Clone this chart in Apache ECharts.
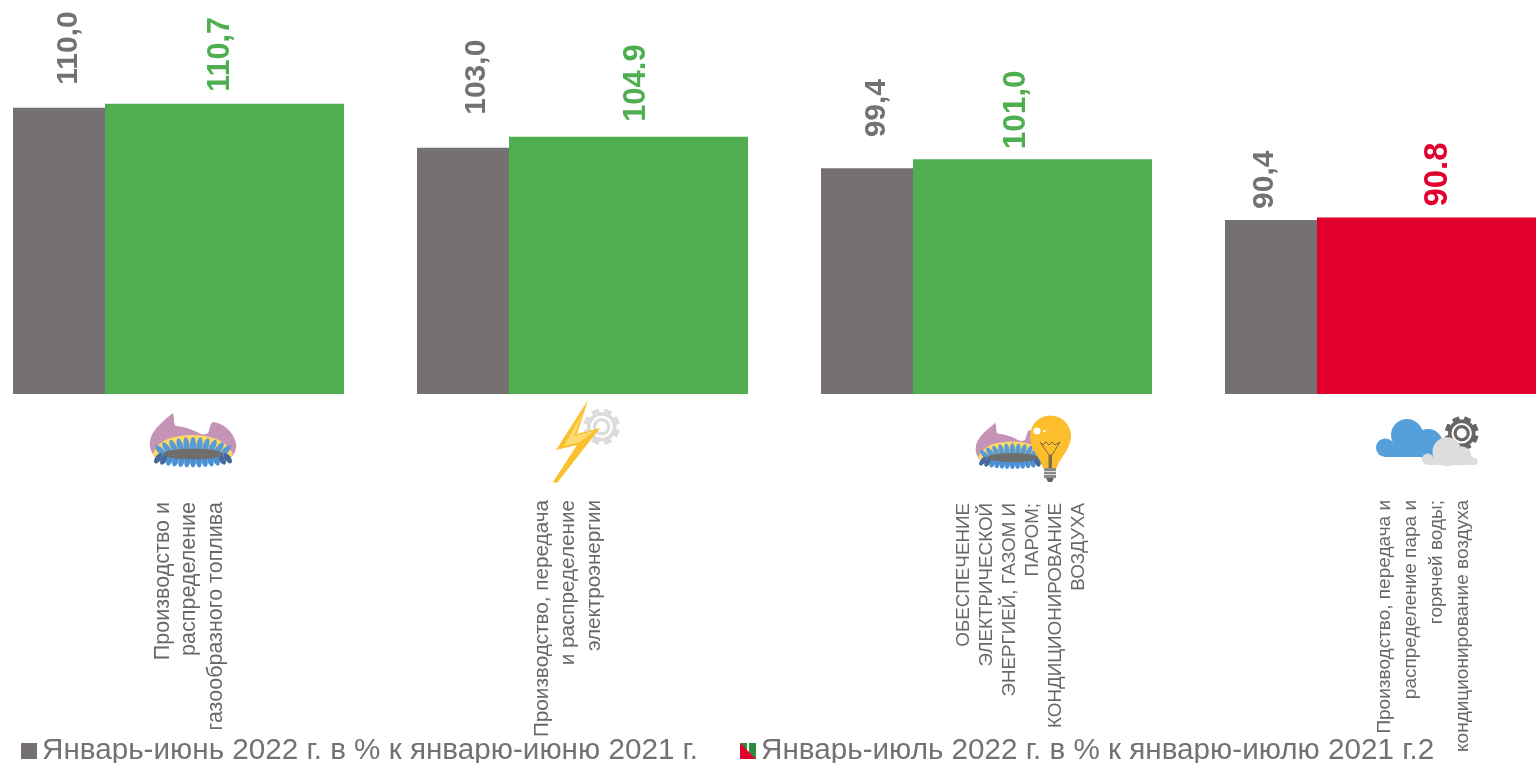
<!DOCTYPE html>
<html><head><meta charset="utf-8">
<style>html,body{margin:0;padding:0;background:#fff;overflow:hidden}#c{width:1536px;height:763px}</style>
<script src="https://cdn.jsdelivr.net/npm/echarts@6/dist/echarts.min.js"></script>
</head><body><div id="c"></div>
<script>
const categories = [
  ['Производство и','распределение','газообразного топлива'],
  ['Производство, передача','и распределение','электроэнергии'],
  ['ОБЕСПЕЧЕНИЕ','ЭЛЕКТРИЧЕСКОЙ','ЭНЕРГИЕЙ, ГАЗОМ И','ПАРОМ;','КОНДИЦИОНИРОВАНИЕ','ВОЗДУХА'],
  ['Производство, передача и','распределение пара и','горячей воды;','кондиционирование воздуха']
];
const seriesNames = ['Январь-июнь 2022 г. в % к январю-июню 2021 г.','Январь-июль 2022 г. в % к январю-июлю 2021 г.2'];
const juneValues = [110.0,103.0,99.4,90.4];
const julyValues = [110.7,104.9,101.0,90.8];
const juneLabels = ['110,0','103,0','99,4','90,4'];
const julyLabels = ['110,7','104.9','101,0','90.8'];

const GRAY='#767171', GREEN='#4FAF50', RED='#E1002D';
const FONT='"Liberation Sans", Arial, sans-serif';
const julyColors=[GREEN,GREEN,GREEN,RED];
// [distance above the bar, sideways shift, font size]
const juneLabelPlace=[[23,10,30],[33,14,30],[31,10,30],[11,-6,30]];
const julyLabelPlace=[[12,-3.5,30.5],[15,7.5,31],[10,-16.5,31.5],[11,1.5,33]];
const labelStyles=[
 {fontSize:21.5,lineHeight:26.5,before:22,after:0,end:2},
 {fontSize:20.7,lineHeight:26,before:0,after:29,end:0},
 {fontSize:18.8,lineHeight:23,before:69,after:0,end:3},
 {fontSize:19,lineHeight:26,before:67,after:0,end:0}
];
const rich={};
labelStyles.forEach((s,i)=>{
  rich['c'+i]={fontSize:s.fontSize,lineHeight:s.lineHeight,color:'#6b6767',fontFamily:FONT,align:'right',padding:[0,s.end,0,0]};
  rich['b'+i]={fontSize:1,lineHeight:s.before||1};
  rich['a'+i]={fontSize:1,lineHeight:s.after||1};
});

function svgUri(w,h,body){
  return 'data:image/svg+xml;charset=utf-8,'+encodeURIComponent(
    '<svg xmlns="http://www.w3.org/2000/svg" width="'+w+'" height="'+h+'" viewBox="0 0 '+w+' '+h+'">'+body+'</svg>');
}
function burnerSvg(){
  let s='<path d="M24 2C26 10 24 15 28 15C36 16 42 18 48 21C52 24 56 24 59 22C61 18 61 12 64 11C74 12 84 20 87 32C88 40 84 46 80 48L8 48C2 42 0 36 1 30C2 20 14 10 24 2Z" fill="#C593B5"/>';
  s+='<path d="M4 44C5 36 12 30 22 27C34 23 54 23 64 27C74 30 82 36 84 44L76 52L12 52Z" fill="#FFD966"/>';
  for(let i=-5;i<=5;i++){
    const cx=44+i*6.4, cy=34+i*i*0.25;
    s+='<ellipse cx="'+cx+'" cy="'+cy+'" rx="3" ry="8" fill="#5B9BD5" transform="rotate('+(i*9)+' '+cx+' '+cy+')"/>';
  }
  for(let i=-6;i<=6;i++){
    const cx=44+i*5.8, cy=50.5-i*i*0.09;
    s+='<ellipse cx="'+cx+'" cy="'+cy+'" rx="2.9" ry="6" fill="'+(Math.abs(i)>4?'#44699F':'#4A90D9')+'" transform="rotate('+(-i*6)+' '+cx+' '+cy+')"/>';
  }
  s+='<ellipse cx="44" cy="43" rx="30" ry="5.5" fill="#6E6E6E"/>';
  return s;
}
function gearSvg(cx,cy,r,col){
  let s='';
  for(let i=0;i<8;i++){
    s+='<rect x="'+(cx-r*0.2)+'" y="'+(cy-r)+'" width="'+(r*0.4)+'" height="'+(2*r)+'" fill="'+col+'" transform="rotate('+(i*45+22.5)+' '+cx+' '+cy+')"/>';
  }
  s+='<circle cx="'+cx+'" cy="'+cy+'" r="'+(r*0.82)+'" fill="'+col+'"/>';
  s+='<circle cx="'+cx+'" cy="'+cy+'" r="'+(r*0.55)+'" fill="none" stroke="#fff" stroke-width="'+(r*0.12)+'"/>';
  s+='<circle cx="'+cx+'" cy="'+cy+'" r="'+(r*0.3)+'" fill="#fff"/>';
  return s;
}
const iconBurner=svgUri(88,58,burnerSvg());
const iconBolt=svgUri(72,90,gearSvg(51.7,26.7,18,'#DCDCDC')+
  '<path d="M38 0L6 50L27 45L3 82L7 83L50 28L27 34Z" fill="#FBC02D"/>'+
  '<path d="M33 12L14 46L30 42L44 31L24 36Z" fill="#FFDC73"/>');
const iconBulb=svgUri(100,74,
  '<g transform="translate(0,7) scale(0.85)">'+burnerSvg()+'</g>'+
  '<path d="M68 54C66 44 55 36 55 22A20.5 20.5 0 0 1 96 22C96 36 84 44 82 54Z" fill="#FDBE2D"/>'+
  '<rect x="69" y="54" width="12" height="10" fill="#8a8a8a"/><rect x="69" y="57" width="12" height="1" fill="#ddd"/><rect x="69" y="60" width="12" height="1" fill="#ddd"/>'+
  '<path d="M71 64L79 64L77 68L73 68Z" fill="#666"/>'+
  '<rect x="73.5" y="41" width="3.5" height="13" fill="#7d6f45"/>'+
  '<path d="M65 28L68 31L71 28L74 31L77 28L80 31L85 28L77 41L74 41Z" fill="none" stroke="#7a6a3a" stroke-width="1"/>'+
  '<circle cx="62" cy="17" r="3.5" fill="#fff"/><circle cx="69.3" cy="17" r="1.3" fill="#fff"/>');
const iconCloud=svgUri(104,54,
  '<g fill="#559FDA"><circle cx="9.3" cy="34.7" r="9.3"/><circle cx="31" cy="22" r="16"/><circle cx="52" cy="31" r="15"/><rect x="9.3" y="30" width="55" height="14"/></g>'+
  gearSvg(85.7,20.3,16.7,'#666666')+
  '<g fill="#DEDCDC"><circle cx="71" cy="38.7" r="14.5"/><circle cx="51.7" cy="46.3" r="5.7"/><circle cx="86" cy="43" r="9.5"/><circle cx="98" cy="48.5" r="3.5"/><rect x="51.7" y="44" width="46" height="8"/></g>');
const legendIcon2='image://'+svgUri(16,16,
  '<rect width="16" height="16" fill="#2E8B3D"/><rect x="7" width="2" height="16" fill="#fff"/><path d="M0 0L16 16L0 16Z" fill="#E1002D"/>');

const iconPlacement=[
  [iconBurner,149,411,88,58],
  [iconBolt,550,400,72,90],
  [iconBulb,975,414,100,74],
  [iconCloud,1376,413,104,54]
];

const option={
  animation:false,
  backgroundColor:'#fff',
  textStyle:{fontFamily:FONT},
  grid:{left:-23.5,top:0,width:1616,height:394,containLabel:false,outerBoundsMode:'none'},
  xAxis:{type:'category',data:categories.map(l=>l.join('\n')),
    axisLine:{show:false},axisTick:{show:false},splitLine:{show:false},
    axisLabel:{show:true,interval:0,rotate:90,margin:106,align:'right',verticalAlign:'middle',hideOverlap:false,rich,
      formatter:(v,i)=>{
        const s=labelStyles[i], lines=v.split('\n').map(t=>'{c'+i+'|'+t+'}');
        if(s.before) lines.unshift('{b'+i+'|\u00a0}');
        if(s.after) lines.push('{a'+i+'|\u00a0}');
        return lines.join('\n');
      }}},
  yAxis:{type:'value',min:60,max:128.8,show:false},
  legend:{left:21,top:736,padding:0,itemWidth:16,itemHeight:16,itemGap:42,
    textStyle:{fontSize:29.65,color:GRAY,fontFamily:FONT},
    data:[{name:seriesNames[0],icon:'rect'},{name:seriesNames[1],icon:legendIcon2}]},
  series:[
    {name:seriesNames[0],type:'bar',barWidth:92,barGap:0,itemStyle:{color:GRAY},
     data:juneValues.map((v,i)=>({value:v,label:{formatter:juneLabels[i],distance:juneLabelPlace[i][0],offset:[0,juneLabelPlace[i][1]],fontSize:juneLabelPlace[i][2]}})),
     label:{show:true,position:'top',rotate:90,align:'left',verticalAlign:'middle',fontWeight:'bold',color:GRAY,fontFamily:FONT}},
    {name:seriesNames[1],type:'bar',barWidth:239,barGap:0,itemStyle:{color:GREEN},
     data:julyValues.map((v,i)=>({value:v,itemStyle:{color:julyColors[i]},label:{formatter:julyLabels[i],color:julyColors[i],distance:julyLabelPlace[i][0],offset:[0,julyLabelPlace[i][1]],fontSize:julyLabelPlace[i][2]}})),
     label:{show:true,position:'top',rotate:90,align:'left',verticalAlign:'middle',fontWeight:'bold',fontFamily:FONT}}
  ],
  graphic:{elements:iconPlacement.map(p=>({type:'image',silent:true,style:{image:p[0],x:p[1],y:p[2],width:p[3],height:p[4]}}))}
};
echarts.init(document.getElementById('c'),null,{renderer:'canvas'}).setOption(option);
</script></body></html>
